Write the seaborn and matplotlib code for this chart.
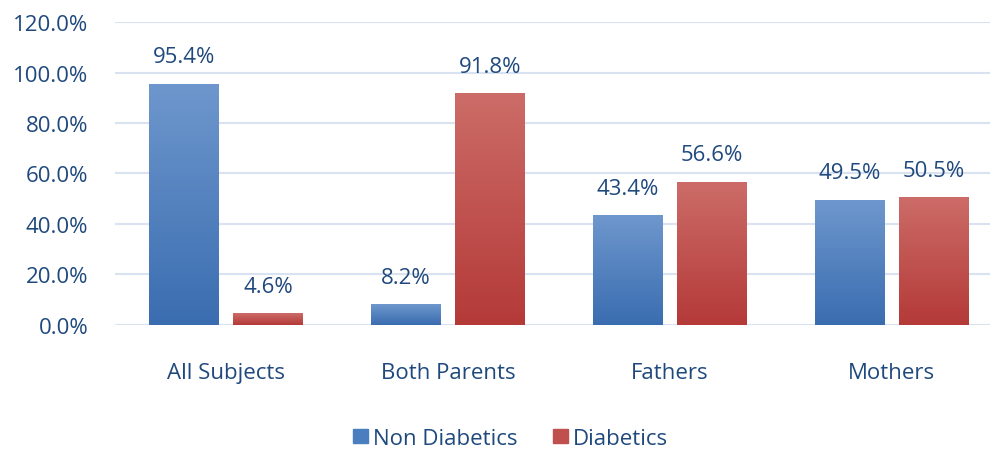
import numpy as np
import pandas as pd
import matplotlib
matplotlib.use("Agg")
import matplotlib.pyplot as plt
import seaborn as sns
from matplotlib.colors import LinearSegmentedColormap

categories = ["All Subjects", "Both Parents", "Fathers", "Mothers"]
non_diabetics = [95.4, 8.2, 43.4, 49.5]
diabetics = [4.6, 91.8, 56.6, 50.5]
series = ["Non Diabetics", "Diabetics"]

df = pd.DataFrame({
    "category": categories * 2,
    "group": [series[0]] * 4 + [series[1]] * 4,
    "value": non_diabetics + diabetics,
})

text_color = "#1F497D"
colors = {"Non Diabetics": "#4A7EBF", "Diabetics": "#C0504D"}
grads = {
    "Non Diabetics": ("#3A6DB0", "#6E97CD"),
    "Diabetics": ("#B43A38", "#CC6C68"),
}

sns.set_style("white")
plt.rcParams["font.family"] = ["Open Sans", "DejaVu Sans"]

fig, ax = plt.subplots(figsize=(9.9, 4.52), dpi=100)
fig.subplots_adjust(left=0.116, right=1.013, top=0.949, bottom=0.279)

sns.barplot(data=df, x="category", y="value", hue="group", order=categories,
            hue_order=series, palette=colors, width=0.76, gap=0.18,
            ax=ax, legend=False, saturation=1)

ax.set_ylim(0, 120)
ax.set_yticks(np.arange(0, 121, 20))
ax.yaxis.set_major_formatter(matplotlib.ticker.FuncFormatter(lambda v, p: f"{v:.1f}%"))
ax.grid(axis="y", color="#D9E2F0", linewidth=1.5)
ax.set_axisbelow(True)
for s in ax.spines.values():
    s.set_visible(False)
ax.set_xlabel("")
ax.set_ylabel("")
ax.tick_params(axis="y", colors=text_color, labelsize=16, length=0, pad=19)
ax.tick_params(axis="x", colors=text_color, labelsize=16, length=0, pad=27)

# gradient fill, values labels
for cont, name in zip(ax.containers, series):
    cmap = LinearSegmentedColormap.from_list(name, grads[name])
    for bar in cont:
        bar.set_facecolor("none")
        bar.set_edgecolor("none")
        x0, y0 = bar.get_x(), bar.get_y()
        w, h = bar.get_width(), bar.get_height()
        im = ax.imshow(np.linspace(0, 1, 256).reshape(-1, 1), cmap=cmap,
                       extent=[x0, x0 + w, y0, y0 + h], origin="lower",
                       aspect="auto", zorder=2)
        im.set_clip_path(bar)
    ax.bar_label(cont, labels=[f"{v:.1f}%" for v in cont.datavalues],
                 padding=12, color=text_color, fontsize=16)
ax.set_xlim(-0.5, 3.5)
ax.set_ylim(0, 120)

handles = [plt.Rectangle((0, 0), 1, 1, color=colors[s]) for s in series]
fig.legend(handles, series, loc="center", bbox_to_anchor=(0.516, 0.028),
           ncol=2, frameon=False, fontsize=16, labelcolor=text_color,
           handlelength=0.65, handleheight=0.65, handletextpad=0.25, columnspacing=1.6)

fig.savefig("out.png", dpi=100)
